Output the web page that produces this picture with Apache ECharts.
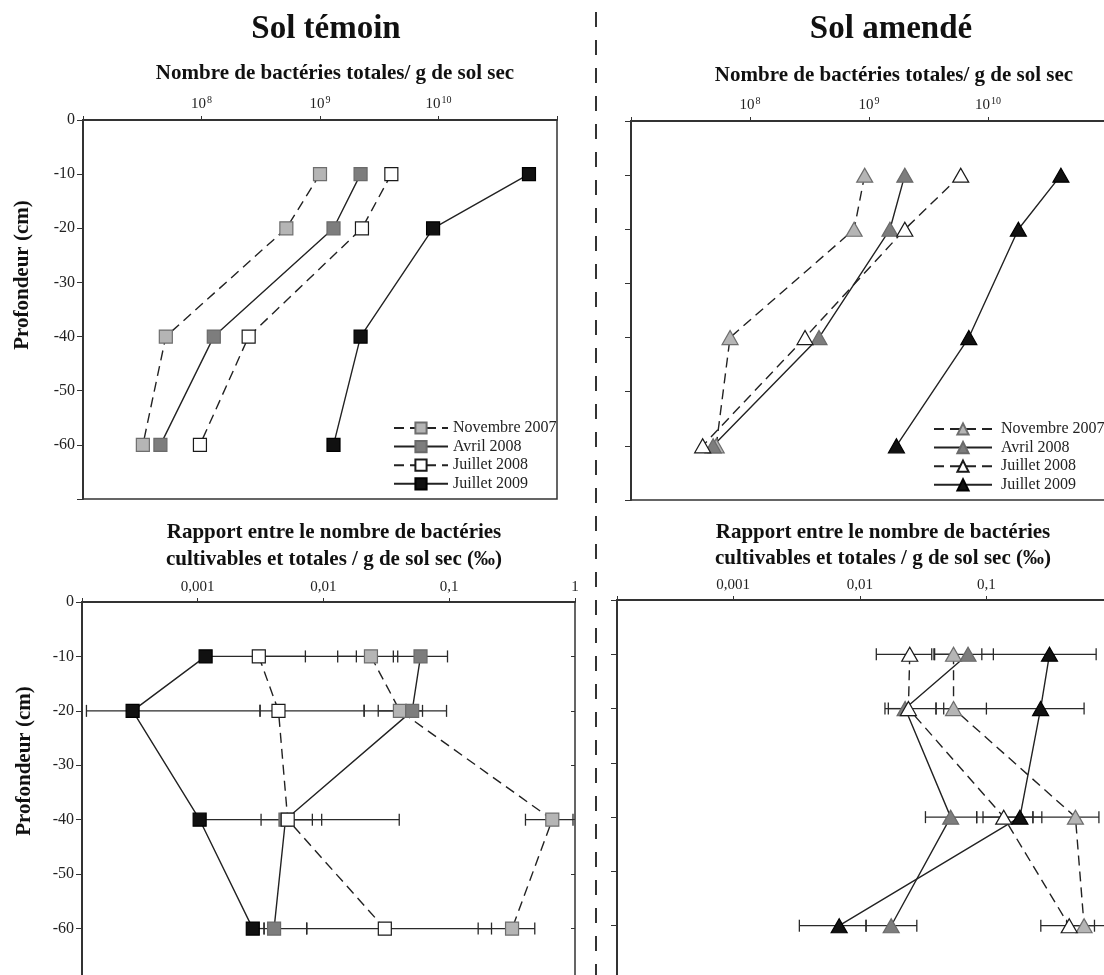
<!DOCTYPE html>
<html>
<head>
  <meta charset="UTF-8">
  <title>Bactéries totales et cultivables - sol témoin / sol amendé</title>
  <script src="https://cdn.jsdelivr.net/npm/echarts@6/dist/echarts.min.js"></script>
  <style>
    html, body { margin: 0; padding: 0; background: #fff; }
    #main { width: 1104px; height: 975px; }
  </style>
</head>
<body>
<div id="main"></div>
<script>
  // profondeurs (cm)
  let depths = [-10, -20, -40, -60];
  let seriesNames = ['Novembre 2007', 'Avril 2008', 'Juillet 2008', 'Juillet 2009'];

  // Nombre de bactéries totales / g de sol sec - sol témoin
  let temTotNov07 = [1.0e9, 5.2e8, 5.0e7, 3.2e7];
  let temTotAvr08 = [2.2e9, 1.3e9, 1.27e8, 4.5e7];
  let temTotJul08 = [4.0e9, 2.26e9, 2.5e8, 9.7e7];
  let temTotJul09 = [5.8e10, 9.0e9, 2.2e9, 1.3e9];

  // Nombre de bactéries totales / g de sol sec - sol amendé
  let amdTotNov07 = [9.2e8, 7.5e8, 6.8e7, 5.2e7];
  let amdTotAvr08 = [2.0e9, 1.5e9, 3.8e8, 4.9e7];
  let amdTotJul08 = [5.9e9, 2.0e9, 2.9e8, 4.0e7];
  let amdTotJul09 = [4.1e10, 1.8e10, 6.9e9, 1.7e9];

  // Rapport cultivables / totales (‰) - sol témoin, avec barres d'erreur
  let temRatNov07 = [0.0239, 0.0406, 0.66, 0.316];
  let temRatNov07Low = [0.013, 0.0273, 0.404, 0.170];
  let temRatNov07High = [0.039, 0.0614, 0.964, 0.479];
  let temRatAvr08 = [0.0592, 0.0508, 0.0050, 0.00406];
  let temRatAvr08Low = [0.036, 0.0211, 0.0050, 0.00338];
  let temRatAvr08High = [0.097, 0.0953, 0.0401, 0.00738];
  let temRatJul08 = [0.00307, 0.0044, 0.00521, 0.0308];
  let temRatJul08Low = [0.00307, 0.00314, 0.0032, 0.00738];
  let temRatJul08High = [0.0183, 0.0211, 0.00818, 0.217];
  let temRatJul09 = [0.00116, 0.000305, 0.00104, 0.00275];
  let temRatJul09Low = [0.00116, 0.000131, 0.00104, 0.00275];
  let temRatJul09High = [0.0072, 0.00314, 0.0097, 0.00338];

  // Rapport cultivables / totales (‰) - sol amendé
  let amdRatNov07 = [0.055, 0.055, 0.505, 0.591];
  let amdRatNov07Low = [0.039, 0.040, 0.233, 0.43];
  let amdRatNov07High = [0.055, 0.100, 0.774, 0.95];
  let amdRatAvr08 = [0.0716, 0.0228, 0.0522, 0.0177];
  let amdRatAvr08Low = [0.0385, 0.0168, 0.033, 0.0112];
  let amdRatAvr08High = [0.1135, 0.0228, 0.0838, 0.0282];
  let amdRatJul08 = [0.0248, 0.0242, 0.137, 0.451];
  let amdRatJul08Low = [0.0135, 0.0158, 0.0838, 0.269];
  let amdRatJul08High = [0.037, 0.040, 0.274, 0.714];
  let amdRatJul09 = [0.315, 0.268, 0.184, 0.00687];
  let amdRatJul09Low = [0.092, 0.046, 0.094, 0.00333];
  let amdRatJul09High = [0.736, 0.591, 0.233, 0.0112];

  // graduations
  let totalTickExps = [8, 9, 10];
  let ratioTickExps = [-3, -2, -1, 0];
  let ratioTickLabels = ['0,001', '0,01', '0,1', '1'];

  let serif = '"Liberation Serif", "DejaVu Serif", serif';
  let ink = '#222';
  let looks = [
    {fill: '#b5b5b5', border: '#6e6e6e', dash: [10, 6]},
    {fill: '#7d7d7d', border: '#6a6a6a', dash: 'solid'},
    {fill: '#ffffff', border: '#1a1a1a', dash: [10, 6]},
    {fill: '#111111', border: '#000000', dash: 'solid'}
  ];

  let myChart = echarts.init(document.getElementById('main'), null, {renderer: 'canvas'});

  function lineSeries(k, tag, vals, g, symbol) {
    let look = looks[k];
    return {
      name: seriesNames[k] + tag,
      type: 'line',
      xAxisIndex: g,
      yAxisIndex: g,
      data: depths.map(function (d, i) { return [vals[i], d]; }),
      symbol: symbol,
      symbolSize: symbol === 'rect' ? 13 : [16, 14],
      itemStyle: {color: look.fill, borderColor: look.border, borderWidth: 1.2},
      lineStyle: {color: '#222', width: 1.4, type: look.dash},
      z: 3,
      animation: false
    };
  }

  function renderErr(params, api) {
    let y = api.value(2);
    let p1 = api.coord([api.value(0), y]);
    let p2 = api.coord([api.value(1), y]);
    let h = 6;
    let st = {stroke: '#2a2a2a', lineWidth: 1.3};
    return {
      type: 'group',
      children: [
        {type: 'line', shape: {x1: p1[0], y1: p1[1], x2: p2[0], y2: p2[1]}, style: st},
        {type: 'line', shape: {x1: p1[0], y1: p1[1] - h, x2: p1[0], y2: p1[1] + h}, style: st},
        {type: 'line', shape: {x1: p2[0], y1: p2[1] - h, x2: p2[0], y2: p2[1] + h}, style: st}
      ]
    };
  }

  function errSeries(low, high, g) {
    return {
      type: 'custom',
      xAxisIndex: g,
      yAxisIndex: g,
      data: depths.map(function (d, i) { return [low[i], high[i], d]; }),
      encode: {x: [0, 1], y: 2},
      renderItem: renderErr,
      silent: true,
      z: 2,
      animation: false
    };
  }

  function totalAxis(g) {
    return {
      gridIndex: g,
      type: 'log',
      logBase: 10,
      min: 1e7,
      max: 1e11,
      position: 'top',
      axisLine: {lineStyle: {color: '#333', width: 2}},
      axisTick: {show: true, length: 4, lineStyle: {color: '#333'}},
      splitLine: {show: false},
      axisLabel: {
        margin: 7,
        showMinLabel: true,
        showMaxLabel: true,
        formatter: function (v) {
          let l = Math.log10(v);
          let e = Math.round(l);
          if (Math.abs(l - e) > 0.01 || totalTickExps.indexOf(e) < 0) return '';
          return '{b|10}{s|' + e + '}';
        },
        rich: {
          b: {fontSize: 15, fontFamily: serif, color: ink},
          s: {fontSize: 10, fontFamily: serif, color: ink, padding: [0, 0, 8, 1]}
        }
      }
    };
  }

  function ratioAxis(g) {
    return {
      gridIndex: g,
      type: 'log',
      logBase: 10,
      min: Math.pow(10, -3.918),
      max: 1,
      position: 'top',
      axisLine: {lineStyle: {color: '#333', width: 2}},
      axisTick: {show: true, length: 4, lineStyle: {color: '#333'}},
      splitLine: {show: false},
      axisLabel: {
        margin: 7,
        showMinLabel: true,
        showMaxLabel: true,
        fontSize: 15,
        fontFamily: serif,
        color: ink,
        formatter: function (v) {
          let l = Math.log10(v);
          let e = Math.round(l);
          let idx = ratioTickExps.indexOf(e);
          if (Math.abs(l - e) > 0.01 || idx < 0) return '';
          return ratioTickLabels[idx];
        }
      }
    };
  }

  function depthAxis(g, showLabels) {
    return {
      gridIndex: g,
      type: 'value',
      min: -70,
      max: 0,
      interval: 10,
      axisLine: {show: true, onZero: false, lineStyle: {color: '#333', width: 2}},
      axisTick: {show: true, length: 6, lineStyle: {color: '#333'}},
      splitLine: {show: false},
      axisLabel: {
        show: showLabels,
        margin: 8,
        fontSize: 16,
        fontFamily: serif,
        color: ink,
        formatter: function (v) { return v === -70 ? '' : String(v); }
      }
    };
  }

  function txt(x, y, text, size, bold, rot) {
    return {
      type: 'text',
      x: x,
      y: y,
      rotation: rot || 0,
      silent: true,
      style: {
        text: text,
        fontSize: size,
        fontWeight: bold ? 'bold' : 'normal',
        fontFamily: serif,
        fill: '#111',
        align: 'center',
        verticalAlign: 'middle'
      }
    };
  }

  let legendBase = {
    orient: 'vertical',
    itemWidth: 54,
    itemHeight: 14,
    itemGap: 2.6,
    padding: 0,
    selectedMode: false,
    formatter: function (name) { return name.split('#')[0]; },
    textStyle: {fontFamily: serif, fontSize: 16, lineHeight: 16, color: ink}
  };

  let series = [];
  let temTot = [temTotNov07, temTotAvr08, temTotJul08, temTotJul09];
  let amdTot = [amdTotNov07, amdTotAvr08, amdTotJul08, amdTotJul09];
  let temRat = [temRatNov07, temRatAvr08, temRatJul08, temRatJul09];
  let temLow = [temRatNov07Low, temRatAvr08Low, temRatJul08Low, temRatJul09Low];
  let temHigh = [temRatNov07High, temRatAvr08High, temRatJul08High, temRatJul09High];
  let amdRat = [amdRatNov07, amdRatAvr08, amdRatJul08, amdRatJul09];
  let amdLow = [amdRatNov07Low, amdRatAvr08Low, amdRatJul08Low, amdRatJul09Low];
  let amdHigh = [amdRatNov07High, amdRatAvr08High, amdRatJul08High, amdRatJul09High];

  for (let k = 0; k < 4; k++) {
    series.push(lineSeries(k, '', temTot[k], 0, 'rect'));
    series.push(lineSeries(k, '#2', amdTot[k], 1, 'triangle'));
    series.push(errSeries(temLow[k], temHigh[k], 2));
    series.push(errSeries(amdLow[k], amdHigh[k], 3));
  }
  for (let k = 0; k < 4; k++) {
    series.push(lineSeries(k, '#3', temRat[k], 2, 'rect'));
    series.push(lineSeries(k, '#4', amdRat[k], 3, 'triangle'));
  }

  // the right-hand panels run past the edge of the page, as in the original figure
  let gridStyle = {
    show: true, borderColor: '#333', borderWidth: 1.5, backgroundColor: 'transparent',
    outerBoundsMode: 'none', containLabel: false
  };

  let option = {
    backgroundColor: '#ffffff',
    animation: false,
    grid: [
      Object.assign({left: 83, top: 120, width: 474, height: 379}, gridStyle),
      Object.assign({left: 631, top: 121, width: 476, height: 379}, gridStyle),
      Object.assign({left: 82, top: 602, width: 493, height: 381}, gridStyle),
      Object.assign({left: 617, top: 600, width: 496, height: 380}, gridStyle)
    ],
    xAxis: [totalAxis(0), totalAxis(1), ratioAxis(2), ratioAxis(3)],
    yAxis: [
      depthAxis(0, true),
      depthAxis(1, false),
      depthAxis(2, true),
      depthAxis(3, false),
      {
        gridIndex: 2, type: 'value', position: 'right', min: -70, max: 0, interval: 10,
        axisLine: {show: false},
        axisTick: {show: true, inside: true, length: 4, lineStyle: {color: '#333'}},
        axisLabel: {show: false},
        splitLine: {show: false}
      }
    ],
    legend: [
      Object.assign({left: 393, top: 420, data: seriesNames.slice()}, legendBase),
      Object.assign({}, legendBase, {
        left: 933, top: 421, itemWidth: 58,
        data: seriesNames.map(function (n) { return n + '#2'; }),
        textStyle: {fontFamily: serif, fontSize: 16, lineHeight: 16, color: ink, padding: [0, 0, 0, 4]}
      })
    ],
    graphic: [
      txt(326, 29, 'Sol témoin', 33, true),
      txt(891, 29, 'Sol amendé', 33, true),
      txt(335, 74, 'Nombre de bactéries totales/ g de sol sec', 21, true),
      txt(894, 76, 'Nombre de bactéries totales/ g de sol sec', 21, true),
      txt(334, 533, 'Rapport entre le nombre de bactéries', 21, true),
      txt(334, 560, 'cultivables et totales / g de sol sec (‰)', 21, true),
      txt(883, 533, 'Rapport entre le nombre de bactéries', 21, true),
      txt(883, 559, 'cultivables et totales / g de sol sec (‰)', 21, true),
      txt(23, 275, 'Profondeur (cm)', 21, true, Math.PI / 2),
      txt(25, 761, 'Profondeur (cm)', 21, true, Math.PI / 2),
      {
        type: 'line',
        silent: true,
        shape: {x1: 596, y1: 12, x2: 596, y2: 975},
        style: {stroke: '#333', lineWidth: 2, lineDash: [15, 13]}
      }
    ],
    series: series
  };

  myChart.setOption(option);

  window.addEventListener('resize', function () {
    myChart.resize();
  });
</script>
</body>
</html>
